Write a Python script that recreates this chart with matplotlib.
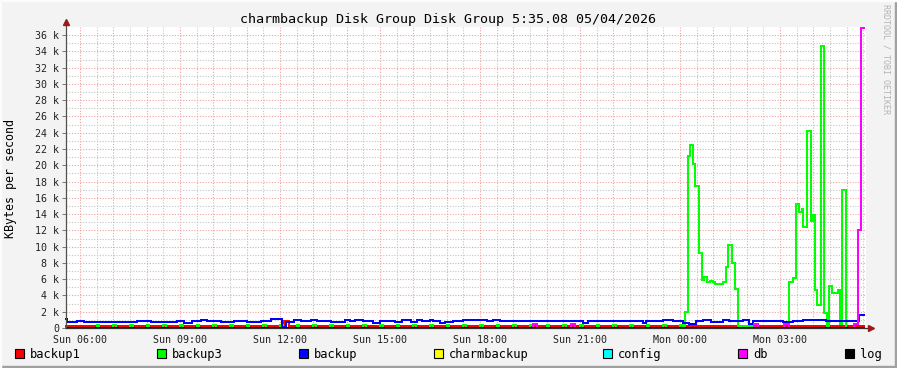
import matplotlib
matplotlib.use('Agg')
import matplotlib.pyplot as plt
import numpy as np
from matplotlib.patches import Rectangle

plt.rcParams['font.family'] = 'DejaVu Sans Mono'

# Time is in hours since Sun 00:00, the graph covers one day up to Mon 05:35.
# Values are in thousands (the axis shows "k").
T_START = 5.585
T_END = 29.585
DATA_END = 29.52

x_ticks = [6, 9, 12, 15, 18, 21, 24, 27]
x_labels = ['Sun 06:00', 'Sun 09:00', 'Sun 12:00', 'Sun 15:00',
            'Sun 18:00', 'Sun 21:00', 'Mon 00:00', 'Mon 03:00']

# backup1 (red), flat with one small bump around noon
backup1_t = [5.585, 12.12, 12.27]
backup1_v = [0.30, 0.90, 0.30]

# backup3 (green): short blips every half hour, then the big bursts after midnight
backup3_blips = [6.5, 7.0, 7.5, 8.0, 8.5, 9.0, 9.5, 10.0, 10.5, 11.0, 11.5, 12.0,
                 12.5, 13.0, 13.5, 14.0, 14.5, 15.0, 15.5, 16.0, 16.5, 17.0, 17.5,
                 18.0, 18.5, 19.0, 19.5, 20.0, 20.5, 21.0, 21.5, 22.0, 22.5, 23.0,
                 23.5, 24.0]
backup3_blip_v = 0.36
backup3_t = [24.15, 24.23, 24.30, 24.38, 24.46, 24.56, 24.65, 24.72, 24.80, 24.89,
             24.98, 25.05, 25.28, 25.38, 25.45, 25.55, 25.65, 25.73, 26.20,
             27.28, 27.38, 27.48, 27.58, 27.65, 27.70, 27.80, 27.92, 27.98, 28.05,
             28.12, 28.22, 28.32, 28.40, 28.47, 28.57, 28.75, 28.80, 28.87, 28.98]
backup3_v = [2.0, 21.2, 22.5, 20.2, 17.4, 9.25, 5.9, 6.3, 5.6, 5.8,
             5.6, 5.4, 5.7, 7.5, 10.2, 8.0, 4.8, 0.3, 0.0,
             5.7, 6.2, 15.3, 14.2, 14.6, 12.4, 24.2, 13.1, 13.9, 4.7,
             2.8, 34.7, 1.9, 0.3, 5.2, 4.3, 4.7, 0.5, 17.0, 0.0]

# backup (blue)
backup_t = [5.585, 5.62, 5.92, 6.12, 6.52, 6.92, 7.32, 7.72, 8.12, 8.52, 8.92, 9.12,
            9.37, 9.62, 9.82, 10.22, 10.62, 11.02, 11.42, 11.72, 12.07, 12.17, 12.42,
            12.62, 12.92, 13.12, 13.52, 13.95, 14.10, 14.25, 14.50, 14.80, 15.00,
            15.15, 15.45, 15.65, 15.95, 16.10, 16.25, 16.50, 16.60, 16.80, 16.95,
            17.20, 17.50, 17.80, 18.20, 18.40, 18.60, 19.30, 19.50, 21.10, 21.25,
            22.88, 22.98, 23.48, 23.63, 23.78, 24.08, 24.28, 24.48, 24.68, 24.93,
            25.28, 25.48, 25.88, 26.08, 26.18, 26.48, 26.88, 27.08, 27.38, 27.68,
            27.98, 28.38, 28.68, 29.08, 29.38]
backup_v = [1.15, 0.74, 0.82, 0.74, 0.78, 0.74, 0.78, 0.82, 0.74, 0.78, 0.90, 0.57,
            0.82, 0.94, 0.82, 0.78, 0.82, 0.74, 0.82, 1.06, 0.12, 0.74, 0.94,
            0.82, 1.02, 0.90, 0.74, 1.02, 0.82, 1.02, 0.82, 0.61, 0.82,
            0.90, 0.70, 1.02, 0.74, 0.98, 0.82, 1.02, 0.82, 0.61, 0.78,
            0.82, 0.94, 0.98, 0.82, 1.02, 0.82, 0.90, 0.82, 0.66, 0.82,
            0.66, 0.82, 0.94, 1.02, 0.82, 0.66, 0.53, 0.82, 0.94, 0.78,
            0.94, 0.82, 0.94, 0.53, 0.82, 0.90, 0.82, 0.70, 0.90, 0.98,
            0.94, 0.82, 0.90, 0.82, 1.63]

# charmbackup, config, log stay at zero
charmbackup_t = [5.585]
charmbackup_v = [0.0]
config_t = [5.585]
config_v = [0.0]
log_t = [5.585]
log_v = [0.0]

# db (magenta)
db_t = [5.585, 19.58, 19.70, 20.73, 20.85, 26.22, 26.34, 27.12, 27.27, 29.22, 29.34, 29.43]
db_v = [0.0, 0.5, 0.0, 0.5, 0.0, 0.5, 0.0, 0.45, 0.0, 0.45, 12.0, 36.9]

names = ['backup1', 'backup3', 'backup', 'charmbackup', 'config', 'db', 'log']
colors = ['#FF0000', '#00FF00', '#0000FF', '#FFFF00', '#00FFFF', '#FF00FF', '#000000']

# green series = half-hour blips + bursts
g = [(T_START, 0.0)]
for b in backup3_blips:
    g.append((b, backup3_blip_v))
    g.append((b + 5 / 60, 0.0))
g += list(zip(backup3_t, backup3_v))
g.sort()
b3_t = [p[0] for p in g]
b3_v = [p[1] for p in g]

series = [(backup1_t, backup1_v), (b3_t, b3_v), (backup_t, backup_v),
          (charmbackup_t, charmbackup_v), (config_t, config_v), (db_t, db_v), (log_t, log_v)]

W, H = 897, 368
fig = plt.figure(figsize=(W / 100, H / 100), dpi=100, facecolor='#F3F3F3')
ax = fig.add_axes([66 / W, 40 / H, 800 / W, 301 / H])
ax.set_facecolor('white')
ax.set_xlim(T_START, T_END)
ax.set_ylim(0, 37.0)
for s in ax.spines.values():
    s.set_visible(False)

# grid: gray every half hour / 1k, red every hour / 2k
dot = (0, (1, 1.5))
for h in np.arange(6, T_END, 0.5):
    c = '#F0A0A0' if h % 1 == 0 else '#C4C4C4'
    ax.axvline(h, color=c, lw=0.8, ls=dot, zorder=0)
for yv in range(1, 37):
    c = '#F0A0A0' if yv % 2 == 0 else '#C4C4C4'
    ax.axhline(yv, color=c, lw=0.8, ls=dot, zorder=0)

# data lines
for (t, v), c in zip(series, colors):
    tt = list(t) + [DATA_END]
    vv = list(v) + [v[-1]]
    ax.step(tt, vv, where='post', color=c, lw=1.44, zorder=3,
            solid_joinstyle='miter', antialiased=False, clip_on=(v[-1] == 0))

# axes with arrows
ax.plot([T_START, T_START], [0, 37.3], color='#505050', lw=0.9, clip_on=False, zorder=4)
ax.plot([T_START, 29.72], [0, 0], color='#303030', lw=0.9, clip_on=False, zorder=4)
ax.plot([T_START], [37.6], marker='^', ms=4.5, color='#9C1A1A', clip_on=False, zorder=5)
ax.plot([29.74], [0], marker='>', ms=4.5, color='#9C1A1A', clip_on=False, zorder=5)

ax.set_xticks(x_ticks)
ax.set_xticklabels(x_labels)
y_ticks = list(range(0, 37, 2))
ax.set_yticks(y_ticks)
ax.set_yticklabels([f'{v} k' if v else '0' for v in y_ticks])
ax.tick_params(axis='x', length=0, pad=5, labelsize=7.2, colors='#222222')
ax.tick_params(axis='y', length=3, width=0.7, pad=2, labelsize=7.2, color='#777777',
               labelcolor='#222222')

fig.text(448 / W, 1 - 19 / H, 'charmbackup Disk Group Disk Group 5:35.08 05/04/2026',
         ha='center', va='center', fontsize=9.6)
fig.text(11 / W, 1 - 178 / H, 'KBytes per second', rotation=90,
         ha='center', va='center', fontsize=8.4)
fig.text(886 / W, 1 - 59 / H, 'RRDTOOL / TOBI OETIKER', rotation=270,
         ha='center', va='center', fontsize=6, color='#B4B4B4')

# legend row
legend_x = [15, 157, 299, 434, 603, 738, 845]
for x0, name, c in zip(legend_x, names, colors):
    fig.patches.append(Rectangle((x0 / W, 1 - 358 / H), 9 / W, 9 / H,
                                 transform=fig.transFigure, facecolor=c,
                                 edgecolor='black', lw=0.8))
    fig.text((x0 + 15) / W, 1 - 354.5 / H, name, ha='left', va='center', fontsize=8.7)

# image frame
fig.patches.append(Rectangle((0, 0), 1, 2 / H, transform=fig.transFigure, color='#A0A0A0'))
fig.patches.append(Rectangle((1 - 2 / W, 0), 2 / W, 1, transform=fig.transFigure, color='#A0A0A0'))
fig.patches.append(Rectangle((0, 1 - 1 / H), 1, 1 / H, transform=fig.transFigure, color='#FCFCFC'))
fig.patches.append(Rectangle((0, 0), 1 / W, 1, transform=fig.transFigure, color='#FCFCFC'))

fig.savefig('out.png', dpi=100, facecolor=fig.get_facecolor())
